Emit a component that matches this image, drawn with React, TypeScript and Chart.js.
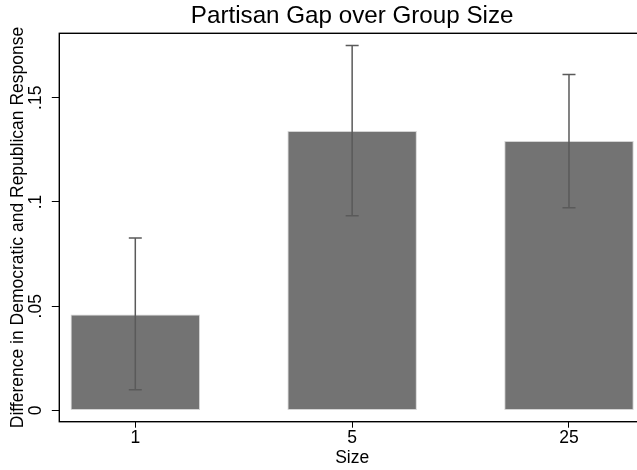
import React, { useEffect, useRef } from 'react';
import { Chart, registerables } from 'chart.js';

Chart.register(...registerables);

const categories = ['1', '5', '25'];
const means = [0.0461, 0.1341, 0.1292];
const upper = [0.0827, 0.1751, 0.1612];
const lower = [0.0099, 0.0934, 0.0972];
const yTickValues = [0, 0.05, 0.1, 0.15];
const yTickLabels = ['0', '.05', '.1', '.15'];
const chartTitle = 'Partisan Gap over Group Size';
const yTitle = 'Difference in Democratic and Republican Response';
const xTitle = 'Size';

const FONT = "'Liberation Sans', Arial, Helvetica, sans-serif";

const outlinePlugin = {
  id: 'outline',
  beforeDatasetsDraw(chart: any) {
    const { ctx, chartArea } = chart;
    ctx.save();
    ctx.strokeStyle = '#000';
    ctx.lineWidth = 1.4;
    ctx.strokeRect(chartArea.left, chartArea.top, chartArea.right - chartArea.left, chartArea.bottom - chartArea.top);
    ctx.restore();
  },
};

const errorBarPlugin = {
  id: 'errorBars',
  afterDatasetsDraw(chart: any) {
    const { ctx } = chart;
    const xs = chart.scales.x;
    const ys = chart.scales.y;
    ctx.save();
    ctx.strokeStyle = '#5a5a5a';
    ctx.lineWidth = 1.5;
    const half = 6.5;
    upper.forEach((u, i) => {
      const x = xs.getPixelForValue(i);
      const yt = ys.getPixelForValue(u);
      const yb = ys.getPixelForValue(lower[i]);
      ctx.beginPath();
      ctx.moveTo(x, yt);
      ctx.lineTo(x, yb);
      ctx.moveTo(x - half, yt);
      ctx.lineTo(x + half, yt);
      ctx.moveTo(x - half, yb);
      ctx.lineTo(x + half, yb);
      ctx.stroke();
    });
    ctx.restore();
  },
};

export default function App() {
  const canvasRef = useRef<HTMLCanvasElement | null>(null);

  useEffect(() => {
    if (!canvasRef.current) return;
    const tickFont = { family: FONT, size: 17.5, weight: 'normal' as const };
    const chart = new Chart(canvasRef.current, {
      type: 'bar',
      data: {
        datasets: [
          {
            data: means.map((y, i) => ({ x: i, y })),
            backgroundColor: '#737373',
            borderColor: '#d4d4d4',
            borderWidth: 1,
            borderSkipped: false,
            categoryPercentage: 1,
            barPercentage: 0.597,
          } as any,
        ],
      },
      options: {
        animation: false,
        responsive: false,
        maintainAspectRatio: false,
        devicePixelRatio: 1,
        layout: { padding: { left: 0, right: 15, top: 0, bottom: 0 } },
        plugins: {
          legend: { display: false },
          tooltip: { enabled: false },
          title: {
            display: true,
            text: chartTitle,
            fullSize: false,
            color: '#000',
            font: { family: FONT, size: 24.2, weight: 'normal' },
            padding: { top: 1.9, bottom: 2.36 },
          },
        },
        scales: {
          x: {
            type: 'linear',
            min: -0.3505,
            max: 2.3505,
            offset: false,
            afterBuildTicks: (s: any) => {
              s.ticks = categories.map((_, i) => ({ value: i }));
            },
            afterFit: (s: any) => {
              s.height = 48.3;
            },
            ticks: {
              callback: (v: any) => categories[Math.round(Number(v))] ?? '',
              font: tickFont,
              color: '#000',
              padding: 0,
              maxRotation: 0,
              minRotation: 0,
              autoSkip: false,
            },
            grid: {
              display: true,
              offset: false,
              drawOnChartArea: false,
              drawTicks: true,
              tickLength: 6,
              color: '#000',
              lineWidth: 1,
            },
            border: { display: false },
            title: {
              display: true,
              text: xTitle,
              color: '#000',
              font: tickFont,
              padding: { top: 0, bottom: 1 },
            },
          },
          y: {
            type: 'linear',
            min: -0.00537,
            max: 0.1809,
            afterBuildTicks: (s: any) => {
              s.ticks = yTickValues.map((v) => ({ value: v }));
            },
            afterFit: (s: any) => {
              s.width = 59.3;
            },
            ticks: {
              callback: (v: any) => {
                const idx = yTickValues.findIndex((t) => Math.abs(t - Number(v)) < 1e-9);
                return idx >= 0 ? yTickLabels[idx] : '';
              },
              font: tickFont,
              color: '#000',
              minRotation: 90,
              maxRotation: 90,
              crossAlign: 'center',
              padding: 3,
              autoSkip: false,
            },
            grid: {
              display: true,
              drawOnChartArea: false,
              drawTicks: true,
              tickLength: 7.5,
              color: '#000',
              lineWidth: 1,
            },
            border: { display: false },
            title: {
              display: true,
              text: yTitle,
              color: '#000',
              font: tickFont,
              padding: { top: 7.5, bottom: 0 },
            },
          },
        },
      } as any,
      plugins: [outlinePlugin, errorBarPlugin],
    });
    return () => chart.destroy();
  }, []);

  return (
    <div
      style={{
        position: 'absolute',
        left: 0,
        top: 0,
        width: 637,
        height: 470,
        overflow: 'hidden',
        background: '#fff',
      }}
    >
      <canvas ref={canvasRef} width={660} height={470} style={{ display: 'block', width: 660, height: 470 }} />
    </div>
  );
}
